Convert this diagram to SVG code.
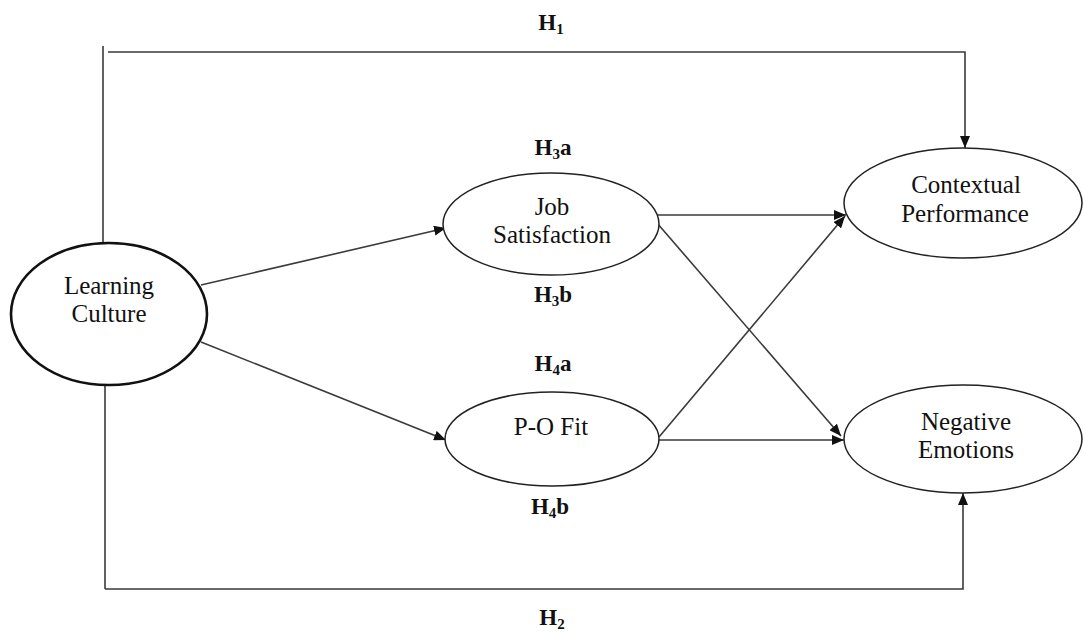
<svg xmlns="http://www.w3.org/2000/svg" width="1083" height="637" viewBox="0 0 1083 637">
<style>
.node{fill:#fff;stroke:#222;stroke-width:1.5}
.lc{stroke-width:2.6;stroke:#111}
.t{font-family:"Liberation Serif","Times New Roman",serif;font-size:25px;fill:#111;text-anchor:middle}
.h{font-family:"Liberation Serif","Times New Roman",serif;font-size:23px;font-weight:bold;fill:#111;text-anchor:middle}
.sub{font-size:15px}
.c{fill:none;stroke:#3a3a3a;stroke-width:1.6}
</style>
<defs>
<marker id="ah" viewBox="0 0 12 10" refX="12" refY="5" markerWidth="12" markerHeight="10" markerUnits="userSpaceOnUse" orient="auto">
<path d="M0,0 L12,5 L0,10 Z" fill="#111"/>
</marker>
</defs>
<g id="connectors">
<path class="c" d="M103,46 V243"/>
<path class="c" d="M108,52 H965 V148" marker-end="url(#ah)"/>
<path class="c" d="M105,385 V589"/>
<path class="c" d="M105,589 H963 V493" marker-end="url(#ah)"/>
<path class="c" d="M201,285 L446,228" marker-end="url(#ah)"/>
<path class="c" d="M201,342 L446,440" marker-end="url(#ah)"/>
<path class="c" d="M657,215 L846,215" marker-end="url(#ah)"/>
<path class="c" d="M657,223 L841,436" marker-end="url(#ah)"/>
<path class="c" d="M659,437 L845,216" marker-end="url(#ah)"/>
<path class="c" d="M658,440 L844,440" marker-end="url(#ah)"/>
</g>
<g id="learning-culture">
<ellipse class="node lc" cx="109" cy="314" rx="98" ry="71"/>
<text class="t" x="109" y="294">Learning</text>
<text class="t" x="109" y="322">Culture</text>
</g>
<g id="job-satisfaction">
<ellipse class="node" cx="551" cy="224" rx="108" ry="51"/>
<text class="t" x="552" y="215">Job</text>
<text class="t" x="552" y="243">Satisfaction</text>
</g>
<g id="po-fit">
<ellipse class="node" cx="552" cy="439" rx="107" ry="47"/>
<text class="t" x="551" y="435">P-O Fit</text>
</g>
<g id="contextual-performance">
<ellipse class="node" cx="963" cy="203" rx="119" ry="55"/>
<text class="t" x="966" y="193">Contextual</text>
<text class="t" x="965" y="222">Performance</text>
</g>
<g id="negative-emotions">
<ellipse class="node" cx="963" cy="439" rx="119" ry="54"/>
<text class="t" x="966" y="430">Negative</text>
<text class="t" x="966" y="458">Emotions</text>
</g>
<g id="labels">
<text class="h" x="551" y="30">H<tspan class="sub" dy="4">1</tspan></text>
<text class="h" x="553" y="155">H<tspan class="sub" dy="4">3</tspan><tspan dy="-4">a</tspan></text>
<text class="h" x="553" y="302">H<tspan class="sub" dy="4">3</tspan><tspan dy="-4">b</tspan></text>
<text class="h" x="553" y="371">H<tspan class="sub" dy="4">4</tspan><tspan dy="-4">a</tspan></text>
<text class="h" x="550" y="514">H<tspan class="sub" dy="4">4</tspan><tspan dy="-4">b</tspan></text>
<text class="h" x="552" y="625">H<tspan class="sub" dy="4">2</tspan></text>
</g>
</svg>
